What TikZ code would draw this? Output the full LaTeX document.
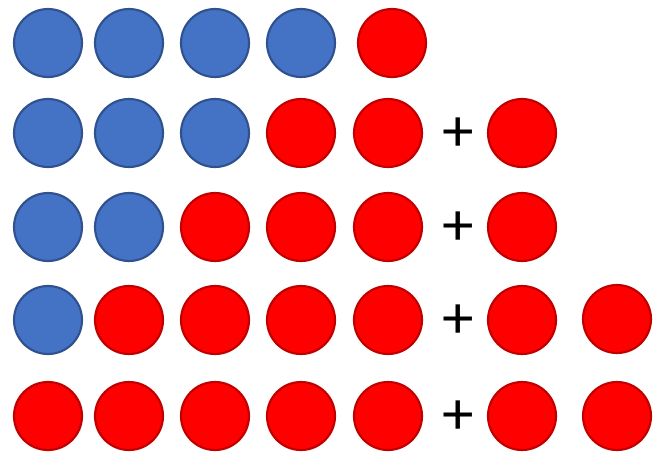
\documentclass[tikz,border=0pt]{standalone}
\usepackage{fontspec}
\setmainfont{Carlito}
\newfontfamily\plusfont{Fira Sans Light}
\definecolor{bluefill}{HTML}{4472C4}
\definecolor{blueedge}{HTML}{2F528F}
\definecolor{redfill}{HTML}{FF0000}
\definecolor{rededge}{HTML}{C00000}
\begin{document}
\begin{tikzpicture}[x=0.75pt,y=-0.75pt,
  ball/.style={circle,minimum size=51pt,inner sep=0pt,line width=1.6pt},
  bb/.style={ball,fill=bluefill,draw=blueedge},
  rb/.style={ball,fill=redfill,draw=rededge},
  plussign/.style={inner sep=0pt,font=\plusfont\fontsize{60pt}{60pt}\selectfont}]
\useasboundingbox (0,0) rectangle (664,461);
% row 1
\node[bb] (a1) at (48,43) {};
\node[bb] (a2) at (129,43) {};
\node[bb] (a3) at (215,43) {};
\node[bb] (a4) at (301,43) {};
\node[rb] (a5) at (392,43) {};
% row 2
\node[bb] (b1) at (48,133) {};
\node[bb] (b2) at (129,133) {};
\node[bb] (b3) at (215,133) {};
\node[rb] (b4) at (301,133) {};
\node[rb] (b5) at (388,133) {};
\node[plussign] (bp) at (458,138) {+};
\node[rb] (b6) at (522,133) {};
% row 3
\node[bb] (c1) at (48,227) {};
\node[bb] (c2) at (129,227) {};
\node[rb] (c3) at (215,227) {};
\node[rb] (c4) at (301,227) {};
\node[rb] (c5) at (388,227) {};
\node[plussign] (cp) at (458,232) {+};
\node[rb] (c6) at (522,227) {};
% row 4
\node[bb] (d1) at (48,320) {};
\node[rb] (d2) at (129,320) {};
\node[rb] (d3) at (215,320) {};
\node[rb] (d4) at (301,320) {};
\node[rb] (d5) at (388,320) {};
\node[plussign] (dp) at (458,325) {+};
\node[rb] (d6) at (522,320) {};
\node[rb] (d7) at (617,319) {};
% row 5
\node[rb] (e1) at (48,416) {};
\node[rb] (e2) at (129,416) {};
\node[rb] (e3) at (215,416) {};
\node[rb] (e4) at (301,416) {};
\node[rb] (e5) at (388,416) {};
\node[plussign] (ep) at (458,421) {+};
\node[rb] (e6) at (522,416) {};
\node[rb] (e7) at (617,416) {};
\end{tikzpicture}
\end{document}
